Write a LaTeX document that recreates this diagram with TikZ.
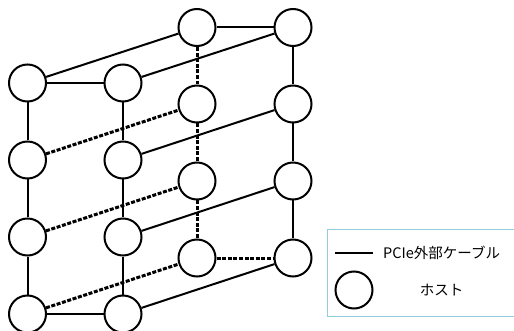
\documentclass[tikz,border=0pt]{standalone}
\usepackage{fontspec}
\newfontfamily\jpfont{Noto Sans CJK JP}
\begin{document}
\begin{tikzpicture}[x=1pt,y=-1pt,
  host/.style={circle,draw,line width=2pt,minimum size=37pt,inner sep=0pt,fill=white},
  cable/.style={line width=2pt},
  dcable/.style={line width=3pt,dash pattern=on 4pt off 1.6pt},
  legendbox/.style={draw=legblue,line width=1.3pt},
  legtext/.style={font=\jpfont\fontsize{14.5}{17}\selectfont,inner sep=0pt}]
\definecolor{legblue}{HTML}{92CDDC}
\useasboundingbox (0,0) rectangle (514,331);
\clip (0,0) rectangle (514,331);
% front plane
\foreach \r/\y in {1/83,2/160,3/237,4/314}{
  \node[host] (F\r a) at (27.5,\y) {};
  \node[host] (F\r b) at (123,\y) {};
}
% back plane
\foreach \r/\y in {1/27.5,2/104,3/181,4/258}{
  \node[host] (B\r a) at (197,\y) {};
  \node[host] (B\r b) at (293,\y) {};
}
% front plane edges
\draw[cable] (F1a) -- (F1b);
\draw[cable] (F4a) -- (F4b);
\draw[cable] (F1a) -- (F2a) (F2a) -- (F3a) (F3a) -- (F4a);
\draw[cable] (F1b) -- (F2b) (F2b) -- (F3b) (F3b) -- (F4b);
% back plane edges
\draw[cable] (B1a) -- (B1b);
\draw[dcable] (B4a) -- (B4b);
\draw[dcable] (B1a) -- (B2a) (B2a) -- (B3a) (B3a) -- (B4a);
\draw[cable] (B1b) -- (B2b) (B2b) -- (B3b) (B3b) -- (B4b);
% depth edges
\draw[cable] (F1a) -- (B1a);
\draw[cable] (F1b) -- (B1b);
\draw[dcable] (F2a) -- (B2a);
\draw[cable] (F2b) -- (B2b);
\draw[dcable] (F3a) -- (B3a);
\draw[cable] (F3b) -- (B3b);
\draw[dcable] (F4a) -- (B4a);
\draw[cable] (F4b) -- (B4b);
% legend
\draw[legendbox] (520,229.5) -- (327.5,229.5) -- (327.5,316.5) -- (520,316.5);
\coordinate (L1) at (335,252.5);
\coordinate (L2) at (373,252.5);
\draw[cable] (L1) -- (L2);
\node[legtext,anchor=west] (t1) at (383,252.5) {PCIe外部ケーブル};
\node[host] (lh) at (354,290) {};
\node[legtext] (t2) at (441.5,290) {ホスト};
\end{tikzpicture}
\end{document}
